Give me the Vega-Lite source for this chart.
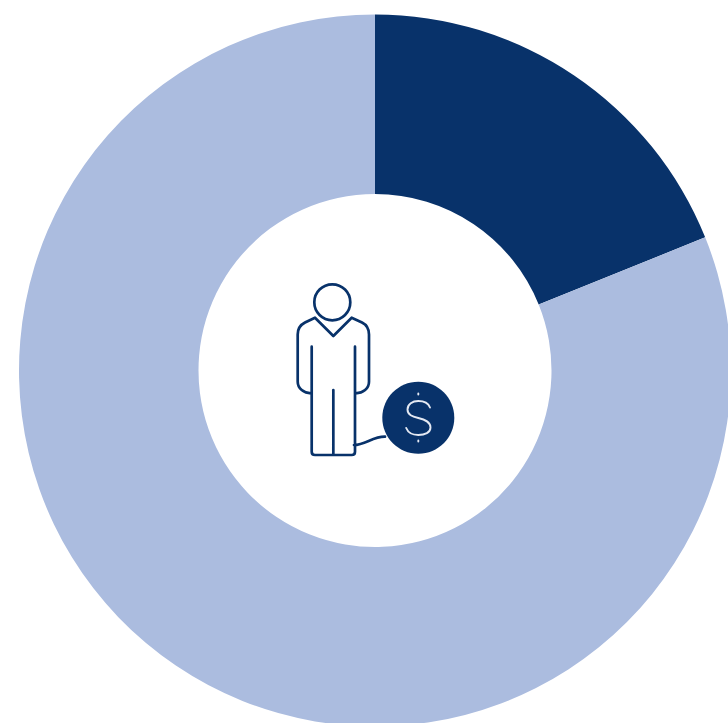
{
  "$schema": "https://vega.github.io/schema/vega-lite/v6.json",
  "width": 750,
  "height": 741,
  "padding": 0,
  "autosize": {"type": "none"},
  "background": "#ffffff",
  "config": {"view": {"stroke": null}},
  "layer": [
    {
      "data": {"values": [
        {"segment": "indebted", "share": 18.9},
        {"segment": "other", "share": 81.1}
      ]},
      "mark": {"type": "arc", "radius": 356, "radius2": 176.5},
      "encoding": {
        "theta": {"field": "share", "type": "quantitative", "stack": true},
        "order": {"field": "segment"},
        "color": {
          "field": "segment",
          "type": "nominal",
          "legend": null,
          "scale": {"domain": ["indebted", "other"], "range": ["#08326A", "#ABBCDF"]}
        }
      }
    },
    {
      "data": {"values": [{"icon": "person"}]},
      "mark": {
        "type": "point",
        "size": 4,
        "opacity": 1,
        "filled": false,
        "stroke": "#08326A",
        "strokeWidth": 2.7,
        "strokeJoin": "round",
        "strokeCap": "round",
        "shape": "M-60.7,-68.2A18,18 0 1 1 -24.7,-68.2A18,18 0 1 1 -60.7,-68.2Z M-64,22.8C-71,22.8 -77.3,18 -77.3,11.2L-77.3,-36C-77.3,-42 -75,-45.5 -70,-48L-60,-52.8L-41.67,-34.5L-23.33,-52.8L-13,-48C-8,-45.5 -6,-42 -6,-36L-6,11.2C-6,18 -12,22.8 -19.3,22.8 M-63.3,-23.8L-63.3,81.2Q-63.3,84.5 -60,84.5L-23.3,84.5Q-20,84.5 -20,81.2L-20,-23.8 M-41.67,19.5L-41.67,84.5 M-21,74.5C-10,74.5 -2,66 10,66.2"
      }
    },
    {
      "data": {"values": [{"icon": "weight"}]},
      "mark": {
        "type": "point",
        "size": 4,
        "opacity": 1,
        "filled": true,
        "fill": "#08326A",
        "strokeWidth": 0,
        "shape": "M7.3,47.2A36,36 0 1 1 79.3,47.2A36,36 0 1 1 7.3,47.2Z"
      }
    },
    {
      "data": {"values": [{"icon": "dollar"}]},
      "mark": {
        "type": "point",
        "size": 4,
        "opacity": 1,
        "filled": false,
        "stroke": "#E4E9F3",
        "strokeWidth": 1.9,
        "strokeCap": "round",
        "shape": "M55,37C53.5,33 49,30.5 43.3,30.5C37.5,30.5 32.5,33.5 32.5,39C32.5,44.5 37.5,46 43.3,47.5C49.5,49 55.5,51 55.5,57C55.5,62 50,64.5 43.3,64.5C37.5,64.5 33,62 31.2,57.5 M43.3,23L43.3,24 M43.3,70L43.3,71"
      }
    }
  ]
}
